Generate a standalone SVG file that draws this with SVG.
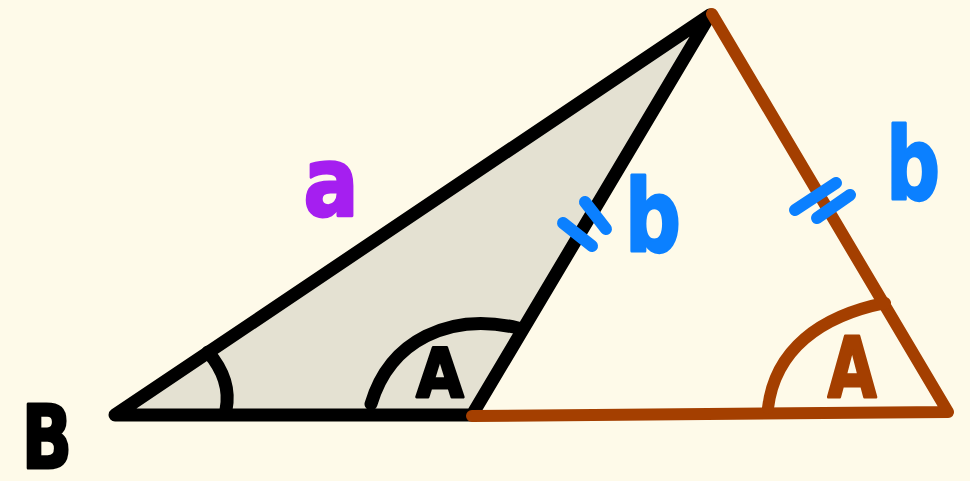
<svg xmlns="http://www.w3.org/2000/svg" width="970" height="481" viewBox="0 0 970 481">
<style>
.blk{fill:none;stroke:#000;stroke-width:13;stroke-linecap:round;stroke-linejoin:round}
.brn{fill:none;stroke:#a43f00;stroke-width:12;stroke-linecap:round;stroke-linejoin:round}
.tick{fill:none;stroke:#0b80ff;stroke-width:12;stroke-linecap:round}
.lbl{font-family:"DejaVu Sans","Liberation Sans",sans-serif;font-weight:bold;text-anchor:middle;stroke-width:3;stroke-linejoin:round}
</style>
<rect x="0" y="0" width="970" height="481" fill="#fefae9"/>
<g id="triangle-black">
<polygon points="115,415 710,15 472,415" style="fill:#e4e1d2" class="blk"/>
<path class="blk" d="M208,352 Q232,380 226,410"/>
<path class="blk" d="M371,404 C390,340 450,312 518,328"/>
</g>
<g id="triangle-brown">
<polyline class="brn" points="712,14 948,412 472,416"/>
<path class="brn" d="M768,408 C775,350 820,316 885,303"/>
</g>
<g id="ticks">
<line class="tick" x1="563" y1="223" x2="592" y2="246"/>
<line class="tick" x1="585" y1="202" x2="606" y2="229"/>
<line class="tick" x1="795" y1="210" x2="836" y2="183"/>
<line class="tick" x1="817" y1="218" x2="850" y2="195"/>
</g>
<g id="labels">
<text class="lbl" x="0" y="0" font-size="88" fill="#000" stroke="#000" transform="translate(47 468) scale(0.75 1)">B</text>
<text class="lbl" x="0" y="0" font-size="96" fill="#a51ff0" stroke="#a51ff0" transform="translate(331 216) scale(0.85 1)">a</text>
<text class="lbl" x="0" y="0" font-size="68" fill="#000" stroke="#000" transform="translate(440 397) scale(0.9 1)">A</text>
<text class="lbl" x="0" y="0" font-size="84" fill="#a43f00" stroke="#a43f00" transform="translate(852 397) scale(0.75 1)">A</text>
<text class="lbl" x="0" y="0" font-size="100" fill="#0b80ff" stroke="#0b80ff" transform="translate(653 251) scale(0.78 1)">b</text>
<text class="lbl" x="0" y="0" font-size="100" fill="#0b80ff" stroke="#0b80ff" transform="translate(913 199) scale(0.75 1)">b</text>
</g>
</svg>
